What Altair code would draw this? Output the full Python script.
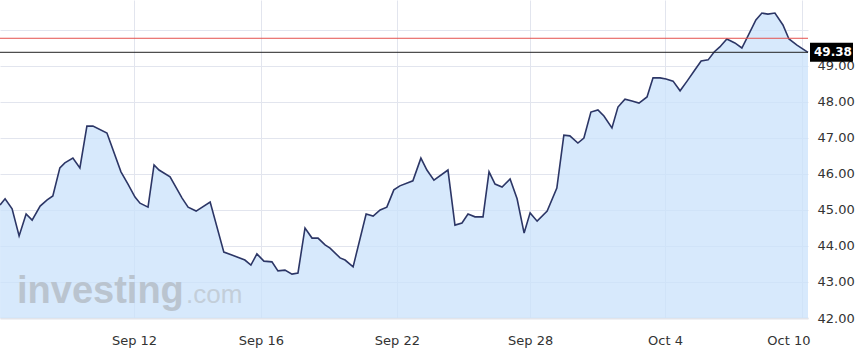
import altair as alt
import pandas as pd

# trading-day offset from Sep 12 (x) and price (y)
t = [-4.01, -3.86, -3.65, -3.44, -3.23, -3.05, -2.81, -2.60, -2.43, -2.22,
     -2.07, -1.83, -1.62, -1.41, -1.23, -0.81, -0.39, -0.18, 0.03, 0.18,
     0.42, 0.60, 0.75, 1.08, 1.44, 1.62, 1.86, 2.28, 2.69, 2.93,
     3.32, 3.50, 3.68, 3.89, 4.13, 4.31, 4.52, 4.73, 4.91, 5.12,
     5.33, 5.51, 5.72, 5.87, 6.17, 6.32, 6.56, 6.95, 7.16, 7.37,
     7.57, 7.78, 7.96, 8.35, 8.59, 8.77, 8.98, 9.40, 9.61, 9.82,
     10.00, 10.21, 10.45, 10.63, 10.81, 11.02, 11.26, 11.47, 11.68, 11.86,
     12.07, 12.37, 12.66, 12.87, 13.05, 13.29, 13.47, 13.68, 13.89, 14.07,
     14.31, 14.49, 14.70, 14.91, 15.12, 15.36, 15.54, 15.75, 15.93, 16.14,
     16.35, 16.56, 16.77, 16.98, 17.19, 17.37, 17.54, 17.75, 17.99, 18.20,
     18.38, 18.62, 18.80, 18.98, 19.19, 19.43, 19.61, 19.85, 20.18]
price = [45.14, 45.31, 45.03, 44.28, 44.89, 44.72, 45.11, 45.28, 45.39, 46.17,
         46.31, 46.44, 46.17, 47.33, 47.33, 47.14, 46.06, 45.72, 45.36, 45.19,
         45.08, 46.25, 46.11, 45.92, 45.33, 45.08, 44.97, 45.22, 43.83, 43.75,
         43.61, 43.47, 43.78, 43.58, 43.56, 43.31, 43.33, 43.22, 43.25, 44.50,
         44.22, 44.22, 44.03, 43.94, 43.67, 43.61, 43.42, 44.89, 44.83, 45.00,
         45.08, 45.56, 45.67, 45.81, 46.44, 46.11, 45.83, 46.11, 44.58, 44.64,
         44.89, 44.81, 44.81, 46.06, 45.72, 45.64, 45.86, 45.31, 44.36, 44.92,
         44.69, 44.97, 45.61, 47.08, 47.06, 46.86, 47.00, 47.72, 47.78, 47.61,
         47.28, 47.86, 48.08, 48.03, 47.97, 48.14, 48.67, 48.67, 48.64, 48.58,
         48.31, 48.58, 48.86, 49.14, 49.17, 49.39, 49.53, 49.75, 49.64, 49.50,
         49.83, 50.28, 50.47, 50.44, 50.47, 50.14, 49.75, 49.58, 49.38]

tick_pos = [0.0, 3.80, 7.87, 11.86, 15.90, 20.00]
tick_labels = ["Sep 12", "Sep 16", "Sep 22", "Sep 28", "Oct 4", "Oct 10"]
y_ticks = [42.0, 43.0, 44.0, 45.0, 46.0, 47.0, 48.0, 49.0, 50.0]
last_price = [49.38]
last_label = ["49.38"]
ref_price = [49.77]
wm_main = ["investing"]
wm_suffix = [".com"]

df = pd.DataFrame({"t": t, "price": price})

W, H = 808, 318
xs = alt.Scale(domain=[-4.012, 20.18], nice=False, zero=False)
ys = alt.Scale(domain=[42, 50.833], nice=False, zero=False)

expr = "'" + tick_labels[-1] + "'"
for p, lab in reversed(list(zip(tick_pos[:-1], tick_labels[:-1]))):
    expr = f"datum.value <= {p + 0.01} ? '{lab}' : ({expr})"

FONT = "DejaVu Sans"
GRID = "#e2e5ee"

x_axis = alt.Axis(
    values=tick_pos, labelExpr=expr, ticks=False, tickSize=0,
    domain=True, domainColor="#e2e4ea", domainWidth=2,
    labelPadding=16, labelFlush=10, labelFlushOffset=8, labelOverlap=False,
    labelFont=FONT, labelFontSize=13, labelColor="#333333",
    gridColor=GRID, title=None, zindex=0)
y_axis = alt.Axis(
    orient="right", values=y_ticks, tickCount=9,
    labelExpr="datum.value >= 50 ? '' : format(datum.value, '.2f')",
    ticks=False, domain=False, labelPadding=9, labelAlign="left",
    labelOverlap=False, labelFlush=False,
    labelFont=FONT, labelFontSize=13, labelColor="#333333",
    gridColor=GRID, title=None, zindex=0)

XE = alt.X("t:Q", scale=xs, axis=x_axis)
YE = alt.Y("price:Q", scale=ys, axis=y_axis)

area = alt.Chart(df).mark_area(color="#c9e2fb", opacity=0.75).encode(
    x=XE, y=YE, y2=alt.datum(42))

wm1 = alt.Chart(pd.DataFrame({"w": wm_main})).mark_text(
    font="Liberation Sans", fontWeight="bold", fontSize=38, color="#bac4cf",
    align="left", baseline="alphabetic").encode(
    x=alt.value(17), y=alt.value(303), text="w:N")
wm2 = alt.Chart(pd.DataFrame({"w": wm_suffix})).mark_text(
    font="Liberation Sans", fontSize=26, color="#c3ced9",
    align="left", baseline="alphabetic").encode(
    x=alt.value(186), y=alt.value(303), text="w:N")

line = alt.Chart(df).mark_line(color="#2c3666", strokeWidth=1.6).encode(
    x=XE, y=YE)

red = alt.Chart(pd.DataFrame({"price": ref_price})).mark_rule(
    color="#e4514d", strokeWidth=1).encode(y=YE)
blk = alt.Chart(pd.DataFrame({"price": last_price})).mark_rule(
    color="#222222", strokeWidth=1).encode(y=YE)

tag_df = pd.DataFrame({"price": last_price, "label": last_label})
tag = alt.Chart(tag_df).mark_tick(
    orient="vertical", thickness=43, size=19, color="#000000", opacity=1).encode(
    x=alt.value(831.5), y=YE)
tag_text = alt.Chart(tag_df).mark_text(
    font=FONT, fontWeight="bold", fontSize=12, color="white",
    align="center", baseline="middle").encode(
    x=alt.value(833), y=YE, text="label:N")

chart = alt.layer(area, wm1, wm2, line, red, blk, tag, tag_text).properties(
    width=W, height=H,
    autosize=alt.AutoSizeParams(type="none"),
    padding={"left": 0, "top": 0, "right": 52, "bottom": 36},
    background="white",
).configure_view(stroke=None)

chart.save("out.html", embed_options={"renderer": "svg", "actions": False})
